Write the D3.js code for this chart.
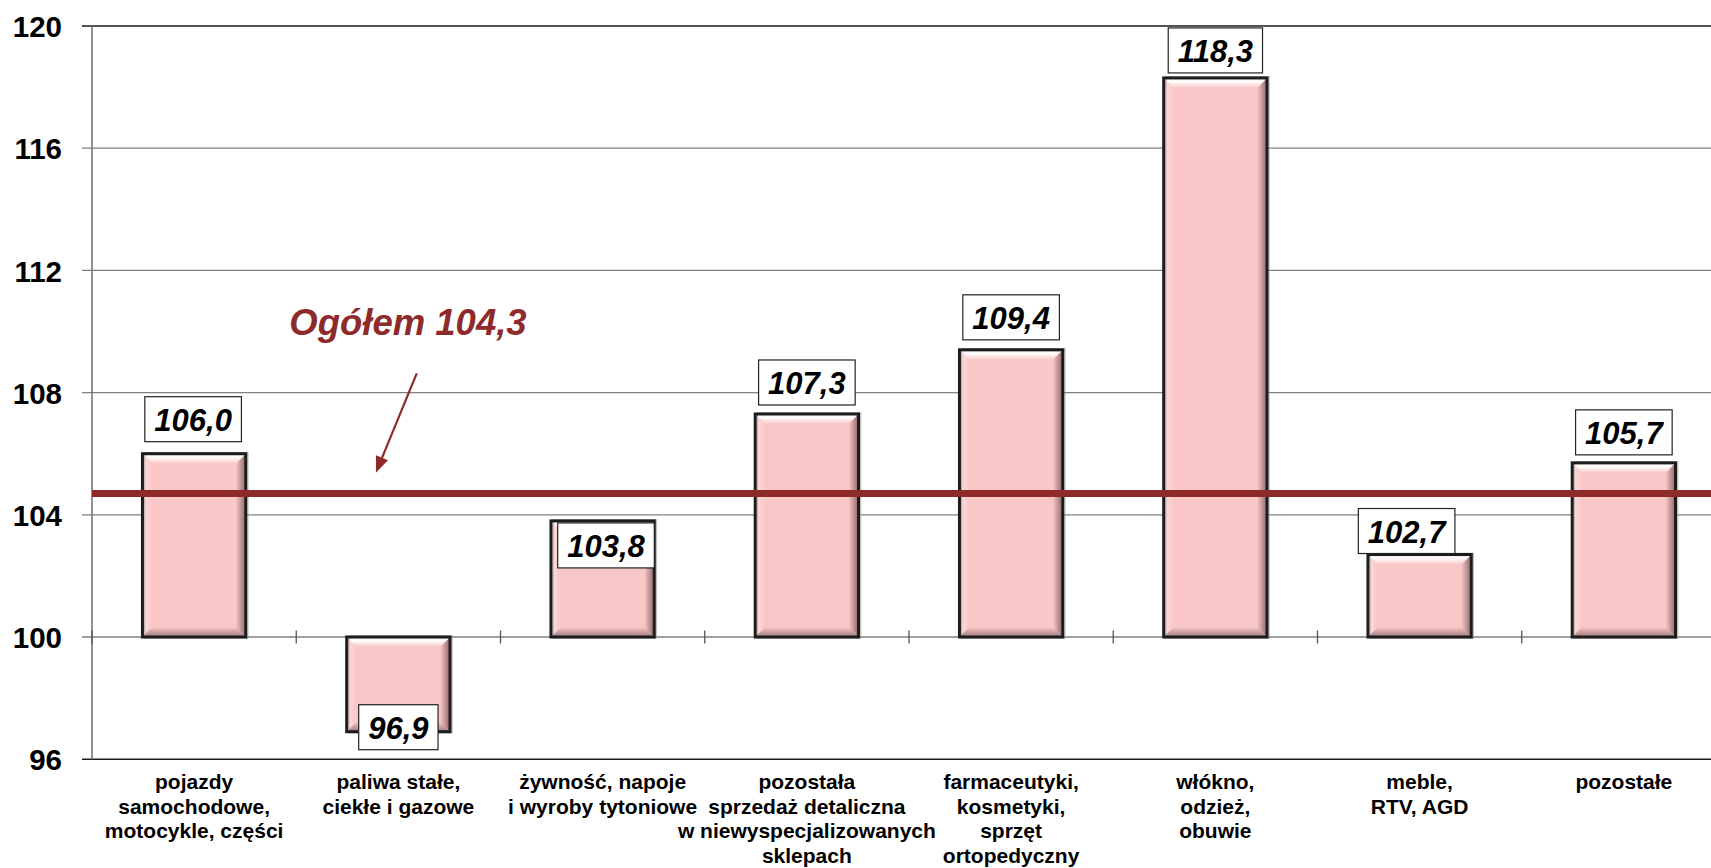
<!DOCTYPE html>
<html>
<head>
<meta charset="utf-8">
<script src="https://cdn.jsdelivr.net/npm/d3@7"></script>
<style>
  html, body { margin: 0; padding: 0; background: #fff; overflow: hidden; }
  svg { display: block; font-family: "Liberation Sans", Arial, sans-serif; }
</style>
</head>
<body>
<svg id="chart" width="1711" height="868"></svg>
<script>
// ---------- DATA ----------
const categories = [
  "pojazdy samochodowe, motocykle, części",
  "paliwa stałe, ciekłe i gazowe",
  "żywność, napoje i wyroby tytoniowe",
  "pozostała sprzedaż detaliczna w niewyspecjalizowanych sklepach",
  "farmaceutyki, kosmetyki, sprzęt ortopedyczny",
  "włókno, odzież, obuwie",
  "meble, RTV, AGD",
  "pozostałe"
];
const categoryLines = [
  ["pojazdy", "samochodowe,", "motocykle, części"],
  ["paliwa stałe,", "ciekłe i gazowe"],
  ["żywność, napoje", "i wyroby tytoniowe"],
  ["pozostała", "sprzedaż detaliczna", "w niewyspecjalizowanych", "sklepach"],
  ["farmaceutyki,", "kosmetyki,", "sprzęt", "ortopedyczny"],
  ["włókno,", "odzież,", "obuwie"],
  ["meble,", "RTV, AGD"],
  ["pozostałe"]
];
const values = [106.0, 96.9, 103.8, 107.3, 109.4, 118.3, 102.7, 105.7];
const valueLabels = ["106,0", "96,9", "103,8", "107,3", "109,4", "118,3", "102,7", "105,7"];
const yTicks = [96, 100, 104, 108, 112, 116, 120];
const baseValue = 100;
const totalLabel = "Ogółem 104,3";
const totalLineLevel = 104.7;

// ---------- LAYOUT (kept apart from data) ----------
const W = 1711, H = 868;
const plotLeft = 92, bandW = 204.25;
const plotRight = plotLeft + categories.length * bandW; // extends past the picture edge
const yTopPx = 26, yBotPx = 759.2;
// label box offsets: dy = box top relative to bar end (px), dx = box centre shift (px)
const labelDy = [-57, -27, 2, -54, -55, -50, -46, -53];
const labelDx = [-1, 0, 4, 0, 0, 0, -13, 0];
const labelAlignRight = [false, false, true, false, false, false, false, false];
// annotation, in data coordinates (x in category units, y in value units)
const annText = { x: 0.966, y: 109.9 };
const annArrow = { x1: 1.59, y1: 108.63, x2: 1.39, y2: 105.38 };

const svg = d3.select("#chart");
const x = d3.scaleBand().domain(categories).range([plotLeft, plotRight]).paddingInner(0).paddingOuter(0);
const xLin = d3.scaleLinear().domain([0, categories.length]).range([plotLeft, plotRight]);
const y = d3.scaleLinear().domain([96, 120]).range([yBotPx, yTopPx]);

const fillCol = "#F9C7C7";
const darkRed = "#8E2A2A";

// gradients
const defs = svg.append("defs");
function grad(id, x1, y1, x2, y2, stops) {
  const g = defs.append("linearGradient").attr("id", id)
    .attr("x1", x1).attr("y1", y1).attr("x2", x2).attr("y2", y2);
  stops.forEach(s => g.append("stop").attr("offset", s[0]).attr("stop-color", s[1]));
}
grad("gTop", 0, 0, 0, 1, [[0, "#fbe3e3"], [0.35, "#ffffff"], [1, fillCol]]);
grad("gRight", 0, 0, 1, 0, [[0, fillCol], [1, "#8f6767"]]);
grad("gBottom", 0, 0, 0, 1, [[0, fillCol], [1, "#9f7a7a"]]);
grad("gLeft", 0, 0, 1, 0, [[0, "#fcdede"], [1, fillCol]]);

// ---------- GRID ----------
const grid = svg.append("g");
yTicks.forEach(t => {
  const edge = (t === 96 || t === 120);
  grid.append("line")
    .attr("x1", plotLeft - 10).attr("x2", W + 20)
    .attr("y1", y(t)).attr("y2", y(t))
    .attr("stroke", edge ? "#1a1a1a" : "#808080")
    .attr("stroke-width", edge ? 1.6 : 1.3);
});
// left axis
grid.append("line").attr("x1", plotLeft).attr("x2", plotLeft)
  .attr("y1", y(120)).attr("y2", y(96)).attr("stroke", "#6e6e6e").attr("stroke-width", 1.5);

// y tick labels
const yAxis = d3.axisLeft(y).tickValues(yTicks).tickSize(0).tickPadding(0).tickFormat(d3.format("d"));
const yG = svg.append("g").attr("transform", `translate(${plotLeft - 30},0)`).call(yAxis);
yG.select(".domain").remove();
yG.selectAll("text")
  .attr("font-family", "'Liberation Sans', Arial, sans-serif")
  .attr("font-size", 29.5).attr("font-weight", "bold").attr("fill", "#000")
  .attr("dy", "0.36em");

// category ticks on the 100 line
const catTicks = d3.range(0, categories.length + 1);
svg.append("g").selectAll("line").data(catTicks).join("line")
  .attr("x1", d => xLin(d)).attr("x2", d => xLin(d))
  .attr("y1", y(baseValue) - 6.5).attr("y2", y(baseValue) + 6.5)
  .attr("stroke", "#555").attr("stroke-width", 1.3);

// ---------- BARS ----------
const barW = x.bandwidth() * 0.506;
const bars = svg.append("g");
categories.forEach((c, i) => {
  const v = values[i];
  const cx = x(c) + x.bandwidth() / 2;
  const x0 = cx - barW / 2, x1 = cx + barW / 2;
  const yt = Math.min(y(v), y(baseValue)), yb = Math.max(y(v), y(baseValue));
  const b = Math.min(10, (yb - yt) / 2);
  const g = bars.append("g");
  g.append("rect").attr("x", x0).attr("y", yt).attr("width", barW).attr("height", yb - yt).attr("fill", fillCol);
  const poly = (pts, f) => g.append("polygon").attr("points", pts.map(p => p.join(",")).join(" ")).attr("fill", f);
  poly([[x0, yt], [x0 + b, yt + b], [x0 + b, yb - b], [x0, yb]], "url(#gLeft)");
  poly([[x1, yt], [x1, yb], [x1 - b, yb - b], [x1 - b, yt + b]], "url(#gRight)");
  poly([[x0, yb], [x1, yb], [x1 - b, yb - b], [x0 + b, yb - b]], "url(#gBottom)");
  poly([[x0, yt], [x1, yt], [x1 - b, yt + b], [x0 + b, yt + b]], "url(#gTop)");
  g.append("rect").attr("x", x0 + 2.2).attr("y", yt - 1.2).attr("width", barW).attr("height", yb - yt + 2.4)
    .attr("fill", "none").attr("stroke", "#9a9a9a").attr("stroke-width", 1.2).attr("opacity", 0.6);
  g.append("rect").attr("x", x0).attr("y", yt).attr("width", barW).attr("height", yb - yt)
    .attr("fill", "none").attr("stroke", "#1c1c1c").attr("stroke-width", 3);
});

// ---------- TOTAL LINE ----------
svg.append("line")
  .attr("x1", plotLeft).attr("x2", W + 20)
  .attr("y1", y(totalLineLevel)).attr("y2", y(totalLineLevel))
  .attr("stroke", darkRed).attr("stroke-width", 7);

// ---------- VALUE LABELS ----------
const lab = svg.append("g");
categories.forEach((c, i) => {
  const v = values[i];
  const cx = x(c) + x.bandwidth() / 2;
  const g = lab.append("g");
  const t = g.append("text").text(valueLabels[i])
    .attr("font-size", 31).attr("font-weight", "bold").attr("font-style", "italic")
    .attr("text-anchor", "middle").attr("fill", "#000");
  const tw = t.node().getComputedTextLength();
  const bw = tw + 19, bh = 45;
  let bcx = cx + labelDx[i];
  if (labelAlignRight[i]) bcx = cx + barW / 2 - bw / 2;
  const top = y(v) + labelDy[i];
  g.insert("rect", "text").attr("x", bcx - bw / 2).attr("y", top).attr("width", bw).attr("height", bh)
    .attr("fill", "#fff").attr("stroke", "#222").attr("stroke-width", 1.2);
  t.attr("x", bcx).attr("y", top + bh - 11);
});

// ---------- CATEGORY LABELS ----------
const cl = svg.append("g");
categories.forEach((c, i) => {
  const cx = x(c) + x.bandwidth() / 2;
  const t = cl.append("text").attr("text-anchor", "middle")
    .attr("font-size", 21).attr("font-weight", "bold").attr("fill", "#000");
  categoryLines[i].forEach((ln, k) => {
    t.append("tspan").attr("x", cx).attr("y", 789 + k * 24.5).text(ln);
  });
});

// ---------- ANNOTATION ----------
svg.append("text").text(totalLabel)
  .attr("x", xLin(annText.x)).attr("y", y(annText.y))
  .attr("font-size", 36.5).attr("font-weight", "bold").attr("font-style", "italic")
  .attr("fill", darkRed);
const ax1 = xLin(annArrow.x1), ay1 = y(annArrow.y1), ax2 = xLin(annArrow.x2), ay2 = y(annArrow.y2);
const ang = Math.atan2(ay2 - ay1, ax2 - ax1);
const hl = 16, hw = 6.5;
const bx = ax2 - hl * Math.cos(ang), by = ay2 - hl * Math.sin(ang);
svg.append("line").attr("x1", ax1).attr("y1", ay1).attr("x2", bx).attr("y2", by)
  .attr("stroke", darkRed).attr("stroke-width", 2.2);
svg.append("polygon").attr("points", [
  [ax2, ay2],
  [bx + hw * Math.sin(ang), by - hw * Math.cos(ang)],
  [bx - hw * Math.sin(ang), by + hw * Math.cos(ang)]
].map(p => p.join(",")).join(" ")).attr("fill", darkRed);
</script>
</body>
</html>
